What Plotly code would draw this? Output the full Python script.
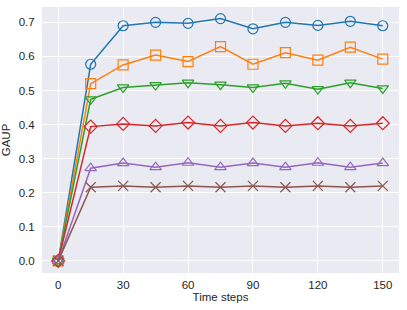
import plotly.graph_objects as go

time_steps = [0, 15, 30, 45, 60, 75, 90, 105, 120, 135, 150]

s_circle = [0.0, 0.577, 0.690, 0.700, 0.697, 0.711, 0.681, 0.700, 0.691, 0.703, 0.690]
s_square = [0.0, 0.520, 0.575, 0.604, 0.585, 0.629, 0.577, 0.611, 0.589, 0.627, 0.592]
s_tridown = [0.0, 0.474, 0.509, 0.516, 0.523, 0.517, 0.509, 0.521, 0.504, 0.523, 0.506]
s_diamond = [0.0, 0.394, 0.402, 0.396, 0.406, 0.396, 0.406, 0.396, 0.404, 0.396, 0.404]
s_triup = [0.0, 0.272, 0.287, 0.275, 0.288, 0.275, 0.287, 0.275, 0.288, 0.275, 0.287]
s_x = [0.0, 0.216, 0.220, 0.216, 0.220, 0.216, 0.220, 0.216, 0.220, 0.216, 0.220]

x_ticks = [0, 30, 60, 90, 120, 150]
y_ticks = [0.0, 0.1, 0.2, 0.3, 0.4, 0.5, 0.6, 0.7]

series = [
    (s_circle, "#1f77b4", "circle-open", 10),
    (s_square, "#ff7f0e", "square-open", 10),
    (s_tridown, "#2ca02c", "triangle-down-open", 10),
    (s_diamond, "#d62728", "diamond-open", 10),
    (s_triup, "#9467bd", "triangle-up-open", 10),
    (s_x, "#8c564b", "x-thin-open", 10),
]

fig = go.Figure()
for vals, color, sym, size in series:
    fig.add_trace(go.Scatter(
        x=time_steps, y=vals, mode="lines+markers",
        line=dict(color=color, width=1.5),
        marker=dict(symbol=sym, size=size, color=color,
                    line=dict(color=color, width=1.2)),
        showlegend=False,
    ))

FONT = "Liberation Sans, Arial, sans-serif"
axis_common = dict(
    showgrid=True, gridcolor="white", gridwidth=1,
    zeroline=False, showline=False,
    ticks="outside", tickcolor="rgba(0,0,0,0)",
    automargin=False,
    tickfont=dict(family=FONT, size=11.5, color="#262626"),
)

fig.update_layout(
    width=407, height=310,
    margin=dict(l=42, r=8, t=7, b=37),
    paper_bgcolor="white",
    plot_bgcolor="#EAEAF2",
    font=dict(family=FONT, size=11.5, color="#262626"),
    xaxis=dict(range=[-7.5, 157.5], tickvals=x_ticks, ticklen=1,
               ticktext=[str(v) for v in x_ticks],
               title=dict(text="Time steps", font=dict(size=11.5), standoff=3),
               **axis_common),
    yaxis=dict(range=[-0.0355, 0.745], tickvals=y_ticks, ticklen=4,
               ticktext=[f"{v:.1f}" for v in y_ticks],
               title=dict(text="GAUP", font=dict(size=11.5), standoff=6),
               **axis_common),
)

fig.write_html("out.html",
               config={"displayModeBar": False},
               post_script="document.body.style.margin='0';document.body.style.padding='0';")
